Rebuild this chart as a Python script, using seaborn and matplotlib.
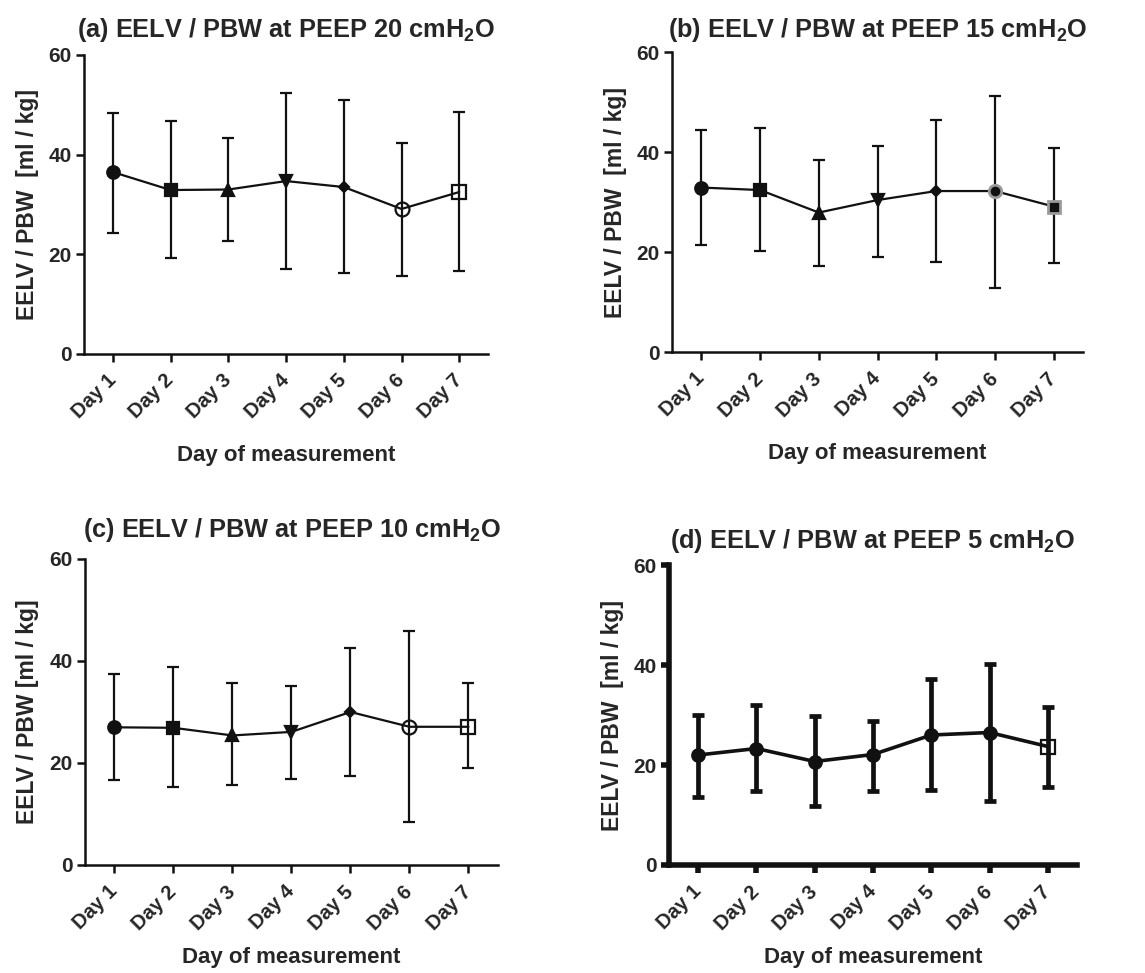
import numpy as np
import pandas as pd
import matplotlib
matplotlib.use("Agg")
import matplotlib.pyplot as plt
import seaborn as sns

days = ["Day 1", "Day 2", "Day 3", "Day 4", "Day 5", "Day 6", "Day 7"]

# (a) PEEP 20
a_mean = [36.5, 32.9, 33.0, 34.7, 33.5, 29.1, 32.5]
a_upper = [48.4, 46.7, 43.4, 52.4, 51.0, 42.4, 48.5]
a_lower = [24.2, 19.2, 22.7, 17.1, 16.3, 15.7, 16.6]
# (b) PEEP 15
b_mean = [32.9, 32.4, 27.9, 30.4, 32.2, 32.2, 29.1]
b_upper = [44.4, 44.8, 38.5, 41.2, 46.4, 51.3, 40.9]
b_lower = [21.4, 20.2, 17.2, 19.0, 18.0, 12.9, 17.8]
# (c) PEEP 10
c_mean = [27.0, 26.9, 25.4, 26.1, 30.0, 27.1, 27.1]
c_upper = [37.4, 38.8, 35.6, 35.1, 42.5, 45.9, 35.6]
c_lower = [16.7, 15.2, 15.6, 16.9, 17.5, 8.4, 19.1]
# (d) PEEP 5
d_mean = [22.0, 23.3, 20.7, 22.1, 26.0, 26.5, 23.7]
d_upper = [30.0, 32.0, 29.9, 28.8, 37.2, 40.2, 31.7]
d_lower = [13.7, 14.9, 11.8, 14.9, 15.1, 12.8, 15.7]

titles = ["(a) EELV / PBW at PEEP 20 cmH$_2$O",
          "(b) EELV / PBW at PEEP 15 cmH$_2$O",
          "(c) EELV / PBW at PEEP 10 cmH$_2$O",
          "(d) EELV / PBW at PEEP 5 cmH$_2$O"]
ylabels = ["EELV / PBW  [ml / kg]", "EELV / PBW  [ml / kg]",
           "EELV / PBW [ml / kg]", "EELV / PBW  [ml / kg]"]
xlabel = "Day of measurement"
yticks = [0, 20, 40, 60]

sns.set_style("ticks")
plt.rcParams["font.family"] = ["Liberation Sans", "DejaVu Sans"]
plt.rcParams["font.weight"] = "bold"
plt.rcParams["mathtext.fontset"] = "custom"
plt.rcParams["mathtext.rm"] = "Liberation Sans:bold"
plt.rcParams["mathtext.it"] = "Liberation Sans:bold"
plt.rcParams["mathtext.bf"] = "Liberation Sans:bold"
plt.rcParams["mathtext.default"] = "rm"

K = "#111111"
# marker specs: (marker, size, face, edge)
m_std = [("o", 9, K, K), ("s", 9, K, K), ("^", 8, K, K), ("v", 8, K, K),
         ("D", 5.5, K, K), ("o", 10, "none", K), ("s", 9.5, "none", K)]
m_b = [("o", 9, K, K), ("s", 9, K, K), ("^", 8, K, K), ("v", 8, K, K),
       ("D", 5.5, K, K), ("o", 9, K, "#9a9a9a"), ("s", 9, K, "#9a9a9a")]
m_d = [("o", 9, K, K)] * 6 + [("s", 9.5, "none", K)]

panels = [
    (a_mean, a_lower, a_upper, m_std, [0.0734, 0.6362, 0.3529, 0.3073], 1.6, 1.6, 1.8, 13, 16),
    (b_mean, b_lower, b_upper, m_b, [0.5869, 0.6382, 0.3590, 0.3083], 1.6, 1.6, 1.8, 11, 16),
    (c_mean, c_lower, c_upper, m_std, [0.0742, 0.1110, 0.3607, 0.3145], 1.6, 1.6, 1.8, 16, 10),
    (d_mean, d_lower, d_upper, m_d, [0.5843, 0.1110, 0.3563, 0.3083], 2.6, 3.4, 4.0, 12, 10),
]

fig = plt.figure(figsize=(11.45, 9.73), dpi=100)
for i, (mean, lo, up, mk, pos, lw, elw, spw, tpad, xpad) in enumerate(panels):
    ax = fig.add_axes(pos)
    x = np.arange(len(days))
    df = pd.DataFrame({"x": x, "mean": mean})
    sns.lineplot(data=df, x="x", y="mean", ax=ax, color=K, linewidth=lw,
                 sort=False, zorder=2)
    mean_a = np.array(mean)
    yerr = np.vstack([mean_a - np.array(lo), np.array(up) - mean_a])
    ax.errorbar(x, mean_a, yerr=yerr, fmt="none", ecolor=K, elinewidth=elw,
                capsize=4.5, capthick=elw, zorder=3)
    for xi, yi, (m, s, fc, ec) in zip(x, mean_a, mk):
        ax.plot([xi], [yi], marker=m, markersize=s, markerfacecolor=fc,
                markeredgecolor=ec, markeredgewidth=1.6 if ec == K else 2.0,
                linestyle="none", zorder=4)
    ax.set_xlim(-0.5, 6.5)
    ax.set_ylim(0, 60)
    ax.set_yticks(yticks)
    ax.set_yticklabels([str(v) for v in yticks], fontsize=15, fontweight="bold")
    ax.set_xticks(x)
    ax.set_xticklabels(days, rotation=45, ha="right", va="center",
                       rotation_mode="anchor", fontsize=14.5, fontweight="bold")
    sns.despine(ax=ax)
    for sp in ["left", "bottom"]:
        ax.spines[sp].set_linewidth(spw)
        ax.spines[sp].set_color(K)
    ax.tick_params(axis="both", direction="out", length=6, width=spw if i == 3 else 1.8,
                   color=K, pad=3)
    ax.tick_params(axis="x", pad=11)
    ax.set_xlabel(xlabel, fontsize=16, fontweight="bold", labelpad=xpad)
    ax.set_ylabel(ylabels[i], fontsize=16.5, fontweight="bold", labelpad=7)
    ax.set_title(titles[i], fontsize=18.3, fontweight="bold", pad=tpad)

fig.savefig("out.png", dpi=100, facecolor="white")
